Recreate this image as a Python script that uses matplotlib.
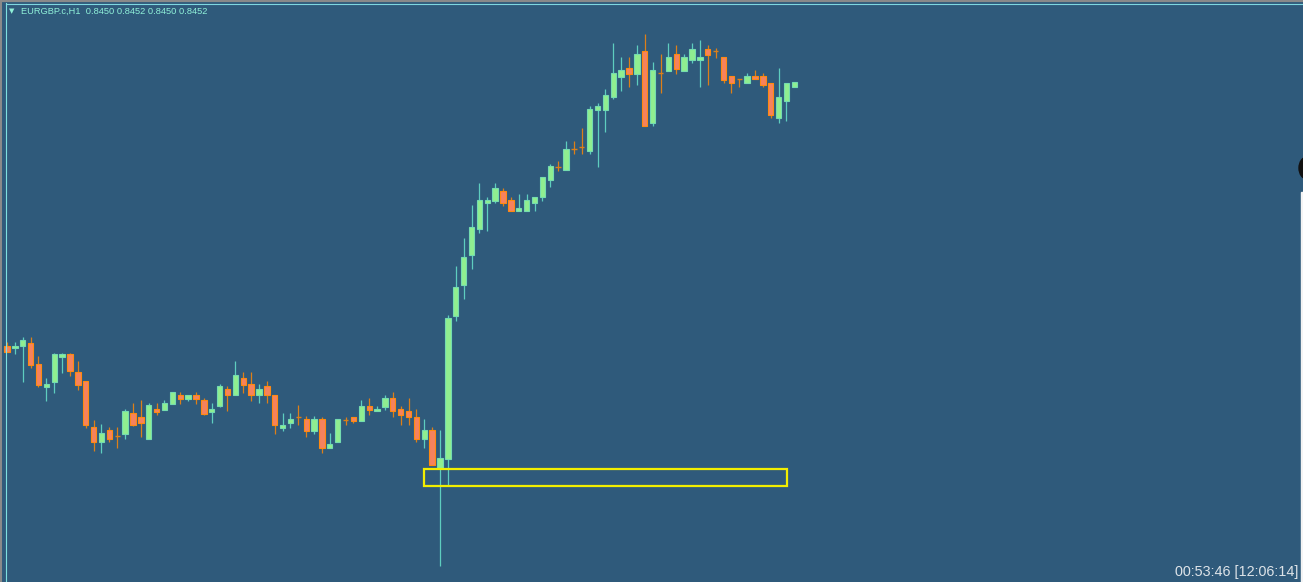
import matplotlib
matplotlib.use("Agg")
import matplotlib.pyplot as plt
from matplotlib.patches import Rectangle, Ellipse
from matplotlib.lines import Line2D
import numpy as np

# EURGBP.c H1 bars, oldest first
opens = [0.83464, 0.83456, 0.83464, 0.83476, 0.83392, 0.83300, 0.83320, 0.83420, 0.83432, 0.83360,
         0.83324, 0.83140, 0.83080, 0.83128, 0.83104, 0.83112, 0.83196, 0.83180, 0.83092, 0.83212,
         0.83208, 0.83232, 0.83268, 0.83252, 0.83268, 0.83248, 0.83200, 0.83224, 0.83292, 0.83268,
         0.83336, 0.83312, 0.83268, 0.83304, 0.83268, 0.83136, 0.83156, 0.83180, 0.83172, 0.83124,
         0.83172, 0.83056, 0.83080, 0.83168, 0.83180, 0.83164, 0.83224, 0.83204, 0.83220, 0.83256,
         0.83212, 0.83204, 0.83180, 0.83092, 0.83128, 0.82976, 0.83012, 0.83584, 0.83708, 0.83828,
         0.83932, 0.84036, 0.84044, 0.84084, 0.84048, 0.84004, 0.84004, 0.84036, 0.84060, 0.84128,
         0.84180, 0.84168, 0.84252, 0.84260, 0.84244, 0.84408, 0.84408, 0.84460, 0.84540, 0.84576,
         0.84552, 0.84644, 0.84356, 0.84556, 0.84564, 0.84632, 0.84564, 0.84608, 0.84608, 0.84652,
         0.84644, 0.84620, 0.84544, 0.84532, 0.84516, 0.84544, 0.84544, 0.84516, 0.84376, 0.84444,
         0.84500]
highs = [0.83480, 0.83480, 0.83500, 0.83500, 0.83424, 0.83336, 0.83436, 0.83436, 0.83436, 0.83404,
         0.83324, 0.83168, 0.83152, 0.83140, 0.83140, 0.83212, 0.83236, 0.83248, 0.83236, 0.83236,
         0.83248, 0.83280, 0.83280, 0.83268, 0.83280, 0.83256, 0.83236, 0.83312, 0.83304, 0.83404,
         0.83360, 0.83360, 0.83312, 0.83324, 0.83268, 0.83196, 0.83196, 0.83228, 0.83184, 0.83184,
         0.83180, 0.83116, 0.83172, 0.83180, 0.83180, 0.83248, 0.83256, 0.83224, 0.83268, 0.83280,
         0.83224, 0.83256, 0.83212, 0.83172, 0.83140, 0.83128, 0.83588, 0.83784, 0.83896, 0.84028,
         0.84116, 0.84060, 0.84116, 0.84096, 0.84060, 0.84072, 0.84072, 0.84060, 0.84140, 0.84192,
         0.84204, 0.84284, 0.84284, 0.84336, 0.84424, 0.84436, 0.84492, 0.84676, 0.84620, 0.84620,
         0.84668, 0.84712, 0.84600, 0.84632, 0.84676, 0.84668, 0.84632, 0.84676, 0.84688, 0.84668,
         0.84656, 0.84620, 0.84544, 0.84532, 0.84556, 0.84568, 0.84556, 0.84516, 0.84576, 0.84516,
         0.84520]
lows = [0.83440, 0.83432, 0.83320, 0.83376, 0.83300, 0.83244, 0.83276, 0.83356, 0.83344, 0.83288,
        0.83136, 0.83044, 0.83036, 0.83080, 0.83056, 0.83092, 0.83144, 0.83100, 0.83092, 0.83188,
        0.83208, 0.83232, 0.83232, 0.83244, 0.83232, 0.83188, 0.83156, 0.83220, 0.83204, 0.83268,
        0.83276, 0.83244, 0.83236, 0.83236, 0.83112, 0.83124, 0.83136, 0.83148, 0.83100, 0.83112,
        0.83036, 0.83056, 0.83080, 0.83148, 0.83156, 0.83164, 0.83188, 0.83204, 0.83208, 0.83180,
        0.83148, 0.83148, 0.83080, 0.83056, 0.82988, 0.82584, 0.82908, 0.83564, 0.83652, 0.83772,
        0.83916, 0.83924, 0.84036, 0.84024, 0.84004, 0.84004, 0.84004, 0.84004, 0.84044, 0.84100,
        0.84164, 0.84168, 0.84232, 0.84232, 0.84232, 0.84180, 0.84320, 0.84452, 0.84484, 0.84500,
        0.84508, 0.84344, 0.84344, 0.84476, 0.84564, 0.84552, 0.84564, 0.84596, 0.84500, 0.84508,
        0.84616, 0.84516, 0.84476, 0.84500, 0.84516, 0.84532, 0.84500, 0.84376, 0.84356, 0.84364,
        0.84500]
closes = [0.83440, 0.83464, 0.83488, 0.83388, 0.83308, 0.83312, 0.83432, 0.83432, 0.83364, 0.83308,
          0.83148, 0.83080, 0.83116, 0.83092, 0.83104, 0.83204, 0.83148, 0.83156, 0.83228, 0.83200,
          0.83236, 0.83280, 0.83252, 0.83268, 0.83252, 0.83192, 0.83212, 0.83304, 0.83268, 0.83348,
          0.83308, 0.83268, 0.83292, 0.83268, 0.83148, 0.83148, 0.83172, 0.83180, 0.83124, 0.83172,
          0.83056, 0.83072, 0.83172, 0.83168, 0.83164, 0.83224, 0.83208, 0.83212, 0.83256, 0.83204,
          0.83188, 0.83180, 0.83092, 0.83128, 0.82988, 0.83016, 0.83576, 0.83700, 0.83820, 0.83940,
          0.84048, 0.84048, 0.84096, 0.84036, 0.84004, 0.84016, 0.84048, 0.84060, 0.84140, 0.84184,
          0.84180, 0.84252, 0.84252, 0.84260, 0.84412, 0.84424, 0.84468, 0.84556, 0.84568, 0.84552,
          0.84632, 0.84344, 0.84568, 0.84556, 0.84620, 0.84572, 0.84620, 0.84652, 0.84620, 0.84628,
          0.84644, 0.84528, 0.84516, 0.84532, 0.84544, 0.84532, 0.84508, 0.84388, 0.84460, 0.84516,
          0.84520]

# yellow zone drawn on the chart (bar index range and price range)
zone_bars = [52.97, 99.07]
zone_prices = [0.82905, 0.82972]

title_text = "EURGBP.c,H1  0.8450 0.8452 0.8450 0.8452"
timer_text = "00:53:46 [12:06:14]"

bg = "#2f5a7b"
bull_wick = "#5ecdbf"
bull_fill = "#90ee90"
bull_edge = "#74dcb0"
bear_wick = "#dd7f18"
bear_fill = "#f5825e"
bear_edge = "#ff8a10"

o = np.array(opens)
h = np.array(highs)
l = np.array(lows)
c = np.array(closes)
x = np.arange(len(o))

fig = plt.figure(figsize=(13.03, 5.82), dpi=100)
fig.patch.set_facecolor(bg)
ax = fig.add_axes([0, 0, 1, 1])
ax.set_facecolor(bg)

up = c > o
down = c < o
doji = c == o

# wicks
ax.vlines(x[up], l[up], h[up], color=bull_wick, lw=0.9, zorder=2)
ax.vlines(x[down], l[down], h[down], color=bear_wick, lw=0.9, zorder=2)
ax.vlines(x[doji], l[doji], h[doji], color=bear_wick, lw=0.9, zorder=2)

# bodies
w = 0.68
ax.bar(x[up], c[up] - o[up], bottom=o[up], width=w, color=bull_fill,
       edgecolor=bull_edge, linewidth=0.8, zorder=3)
ax.bar(x[down], o[down] - c[down], bottom=c[down], width=w, color=bear_fill,
       edgecolor=bear_edge, linewidth=0.8, zorder=3)
ax.hlines(o[doji], x[doji] - w / 2, x[doji] + w / 2, color=bear_wick, lw=1.0, zorder=3)

# zone rectangle
ax.add_patch(Rectangle((zone_bars[0], zone_prices[0]), zone_bars[1] - zone_bars[0],
                       zone_prices[1] - zone_prices[0], fill=False,
                       edgecolor="#f2ee00", linewidth=1.6, zorder=4))

ax.set_xlim(-0.889, 164.6)
ax.set_ylim(0.82520, 0.84848)
ax.axis("off")

# window frame bits
W, H = 1303.0, 582.0
fig.add_artist(Line2D([0, 0], [0, 1], transform=fig.transFigure, color="#8a8a8a", lw=2.2))
fig.add_artist(Line2D([0, 1], [1 - 0.5 / H, 1 - 0.5 / H], transform=fig.transFigure, color="#8a8a8a", lw=1.6))
fig.add_artist(Line2D([5.5 / W, 5.5 / W], [0, 1 - 3 / H], transform=fig.transFigure, color="#7fe0e0", lw=0.8))
fig.add_artist(Line2D([5.5 / W, 1], [1 - 3.5 / H, 1 - 3.5 / H], transform=fig.transFigure, color="#7fd8e0", lw=0.8))

# edge of an overlapping window on the right
fig.add_artist(Rectangle((1300.5 / W, 0), 3 / W, (H - 192) / H, transform=fig.transFigure,
                         color="#f4f4f4", zorder=5))
fig.add_artist(Ellipse((1307 / W, 1 - 168 / H), 16 / W, 22 / H, transform=fig.transFigure,
                       color="#111111", zorder=5))

# labels
fig.text(9 / W, 1 - 11 / H, "\u25bc", color="#8ff0d8", fontsize=5, va="center", ha="left",
         family="DejaVu Sans")
fig.text(21 / W, 1 - 11.5 / H, title_text, color="#8ff0d8", fontsize=6.7, va="center",
         ha="left", family="Liberation Sans")
fig.text(1298 / W, 1 - 572 / H, timer_text, color="#dde3e8", fontsize=10.4, va="center",
         ha="right", family="Liberation Sans")

fig.savefig("out.png", dpi=100, facecolor=bg)
